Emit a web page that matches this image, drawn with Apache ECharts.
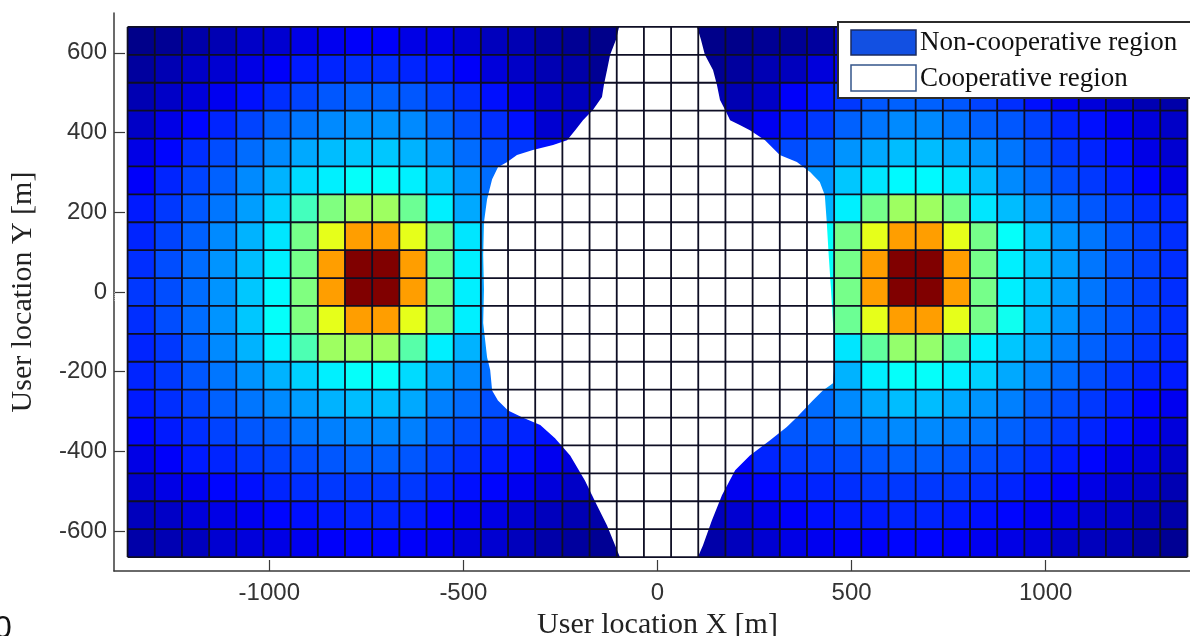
<!DOCTYPE html>
<html>
<head>
<meta charset="utf-8">
<title>Cooperative region</title>
<script src="https://cdn.jsdelivr.net/npm/echarts@6/dist/echarts.min.js"></script>
<style>
  html, body { margin: 0; padding: 0; background: #ffffff; }
  #chart { width: 1190px; height: 636px; }
</style>
</head>
<body>
<div id="chart"></div>
<script>
// Cell centres of the user-location grid [m]
const xCenters = [-1330,-1260,-1190,-1120,-1050,-980,-910,-840,-770,-700,-630,-560,-490,-420,-350,-280,-210,-140,-70,0,
                  70,140,210,280,350,420,490,560,630,700,770,840,910,980,1050,1120,1190,1260,1330];
const yCenters = [630,560,490,420,350,280,210,140,70,0,-70,-140,-210,-280,-350,-420,-490,-560,-630];
const cellSize = 70;

// Colour level of each cell (0..100), one array per grid row, top row first
const rowY630  = [1,2,4,5,7,8,10,11,12,12,10,10,8,6,5,3,2,1,1,1,1,1,1,2,2,3,8,10,12,12,11,10,8,7,5,4,3,2,1];
const rowY560  = [3,5,7,8,10,12,15,16,17,17,16,15,12,9,7,5,4,2,2,2,2,2,3,5,6,9,12,16,17,17,16,15,12,10,8,7,5,3,2];
const rowY490  = [5,7,9,11,14,17,19,21,22,22,21,19,17,14,10,7,6,5,4,4,4,5,5,7,12,15,18,21,22,22,21,19,17,14,11,9,7,5,4];
const rowY420  = [7,10,13,16,19,22,24,26,27,27,26,23,20,17,14,8,7,6,5,5,5,6,7,11,15,18,22,24,26,26,24,22,21,19,16,14,11,9,7];
const rowY350  = [10,13,17,20,23,26,29,31,32,32,30,27,23,20,18,14,11,9,8,8,9,11,14,17,20,23,27,29,31,31,29,27,24,21,18,16,14,10,8];
const rowY280  = [12,16,19,22,26,30,34,36,38,38,36,32,27,23,20,17,14,12,10,10,12,14,17,19,21,27,32,35,37,37,35,31,26,23,20,18,16,13,10];
const rowY210  = [15,18,21,24,28,33,44,50,53,53,48,36,29,25,22,19,16,14,12,12,14,16,19,22,25,30,36,49,53,53,49,35,31,27,24,21,19,17,16];
const rowY140  = [16,19,22,26,30,35,49,60,72,72,60,49,35,28,24,21,18,15,13,13,15,18,21,24,30,38,49,60,72,72,60,49,38,32,27,24,21,19,17];
const rowY70   = [17,20,23,27,31,36,49,72,100,100,72,49,36,29,25,22,19,16,14,14,16,19,22,25,29,38,49,72,100,100,72,49,36,32,28,24,21,19,17];
const rowY0    = [18,20,23,27,32,37,50,72,100,100,72,50,36,28,25,22,19,16,14,14,16,19,22,25,29,38,49,72,100,100,72,49,36,32,28,24,21,19,17];
const rowYm70  = [17,20,23,27,32,38,50,60,72,72,60,50,36,27,24,21,18,15,14,14,15,18,21,25,29,40,48,60,72,72,60,49,39,31,27,23,21,19,17];
const rowYm140 = [16,18,22,26,30,36,45,53,53,53,46,36,30,26,22,19,16,14,13,13,14,16,19,22,26,30,35,47,52,52,47,36,32,29,25,22,20,18,16];
const rowYm210 = [16,18,21,24,27,30,33,36,38,38,34,29,26,23,20,17,15,13,12,12,13,15,18,21,24,27,30,36,38,38,36,33,29,26,23,20,18,16,15];
const rowYm280 = [15,17,19,22,24,26,28,30,31,31,29,25,23,20,17,14,12,11,10,10,11,13,16,19,21,23,26,29,31,31,29,27,25,22,20,18,16,13,11];
const rowYm350 = [13,15,17,19,21,22,24,25,26,26,25,22,20,18,16,14,12,10,9,9,10,12,15,18,21,22,24,25,26,26,25,24,22,20,18,16,14,11,9];
const rowYm420 = [10,12,15,16,18,19,20,21,22,22,21,19,17,15,14,11,9,8,7,7,8,10,13,16,18,19,20,21,22,22,21,20,19,17,15,13,10,9,7];
const rowYm490 = [8,10,11,13,14,16,17,18,18,18,18,16,14,13,11,9,7,6,5,5,6,8,11,13,15,16,17,18,18,18,18,17,16,14,12,10,8,7,5];
const rowYm560 = [6,7,9,10,11,13,14,15,16,16,15,13,11,10,8,6,5,4,3,3,4,6,8,10,12,14,15,15,16,16,15,14,13,11,10,8,7,5,4];
const rowYm630 = [4,5,6,8,9,10,11,12,13,13,12,11,9,8,6,4,3,2,2,2,2,4,6,8,10,11,12,12,13,13,12,11,10,9,7,6,5,3,2];

const fieldRows = [rowY630,rowY560,rowY490,rowY420,rowY350,rowY280,rowY210,rowY140,rowY70,rowY0,
                   rowYm70,rowYm140,rowYm210,rowYm280,rowYm350,rowYm420,rowYm490,rowYm560,rowYm630];

// Outline of the cooperative region [x, y] in metres
const coopBoundary = [
  [-99,665],[-107,633],[-122,595],[-130,557],[-138,520],[-143,489],[-166,457],[-192,431],[-212,406],[-233,381],
  [-269,369],[-321,356],[-362,344],[-387,326],[-411,313],[-426,283],[-439,233],[-447,175],[-449,92],[-447,7],
  [-449,-78],[-439,-164],[-431,-196],[-426,-247],[-411,-272],[-385,-297],[-349,-314],[-302,-334],[-264,-367],
  [-225,-410],[-187,-473],[-156,-535],[-130,-586],[-109,-636],[-97,-665],[104,-665],[117,-636],[140,-573],
  [166,-510],[200,-447],[238,-410],[290,-372],[333,-339],[359,-314],[400,-272],[426,-247],[452,-229],[457,-164],
  [452,-78],[447,5],[441,92],[436,175],[431,243],[418,276],[393,301],[359,326],[315,344],[277,381],[238,406],
  [212,419],[187,431],[174,457],[161,482],[153,520],[143,557],[122,595],[112,633],[102,665]
];

// MATLAB-style jet colour ramp
const jet = ['#000080','#0000ff','#0080ff','#00ffff','#80ff80','#ffff00','#ff8000','#ff0000','#800000'];

const half = cellSize / 2;
const cells = [];
fieldRows.forEach(function (row, r) {
  row.forEach(function (v, c) { cells.push([xCenters[c], yCenters[r], v]); });
});
const xEdges = xCenters.map(function (x) { return x - half; }).concat([xCenters[xCenters.length - 1] + half]);
const yEdges = yCenters.map(function (y) { return y + half; }).concat([yCenters[yCenters.length - 1] - half]);

const chart = echarts.init(document.getElementById('chart'));

const axisColor = '#3a3a3a';
const gridLineColor = '#0e0e24';
const tickFont = { fontFamily: 'Liberation Sans', fontSize: 24, color: '#333' };
const titleFont = { fontFamily: 'Liberation Serif', fontSize: 30, color: '#222' };
const plainNumber = function (v) { return String(v); };

chart.setOption({
  animation: false,
  backgroundColor: '#ffffff',
  grid: { left: 114, width: 1087, top: 13, height: 558, outerBoundsMode: 'none', containLabel: false },
  xAxis: [{
    type: 'value', min: -1400, max: 1400, splitNumber: 5, position: 'bottom',
    axisLine: { show: true, onZero: false, lineStyle: { color: axisColor, width: 1.5 } },
    axisTick: { show: true, inside: true, length: 11, lineStyle: { color: axisColor, width: 1.2 } },
    axisLabel: Object.assign({ showMinLabel: false, showMaxLabel: false, margin: 10, formatter: plainNumber }, tickFont),
    splitLine: { show: false },
    name: 'User location X [m]', nameLocation: 'middle', nameGap: 29, nameTextStyle: titleFont
  }, {
    type: 'value', min: -1400, max: 1400, splitNumber: 5, position: 'top',
    axisLine: { show: false },
    axisTick: { show: true, inside: true, length: 9, lineStyle: { color: '#aaa', type: 'dotted' } },
    axisLabel: { show: false }, splitLine: { show: false }
  }],
  yAxis: {
    type: 'value', min: -700, max: 700, splitNumber: 7,
    axisLine: { show: true, onZero: false, lineStyle: { color: axisColor, width: 1.5 } },
    axisTick: { show: true, inside: true, length: 11, lineStyle: { color: axisColor, width: 1.2 } },
    axisLabel: Object.assign({ showMinLabel: false, showMaxLabel: false, margin: 7, padding: [6, 0, 0, 0],
                               formatter: plainNumber }, tickFont),
    splitLine: { show: false },
    name: 'User location Y [m]', nameLocation: 'middle', nameGap: 76, nameTextStyle: titleFont
  },
  visualMap: {
    type: 'continuous', show: false, min: 0, max: 100, dimension: 2, seriesIndex: 0,
    inRange: { color: jet }
  },
  series: [{
    name: 'Non-cooperative region',
    type: 'custom', silent: true,
    encode: { x: 0, y: 1 },
    data: cells,
    renderItem: function (params, api) {
      const x = api.value(0), y = api.value(1);
      const p0 = api.coord([x - half, y + half]);
      const p1 = api.coord([x + half, y - half]);
      return {
        type: 'rect',
        shape: { x: p0[0], y: p0[1], width: p1[0] - p0[0], height: p1[1] - p0[1] },
        style: { fill: api.visual('color'), stroke: api.visual('color'), lineWidth: 0.5 }
      };
    }
  }, {
    name: 'Cooperative region',
    type: 'custom', silent: true,
    encode: { x: 0, y: 1 },
    data: [[0, 0]],
    renderItem: function (params, api) {
      return {
        type: 'polygon',
        shape: { points: coopBoundary.map(function (p) { return api.coord(p); }) },
        style: { fill: '#ffffff' }
      };
    }
  }, {
    name: 'grid',
    type: 'custom', silent: true,
    encode: { x: 0, y: 1 },
    data: [[0, 0]],
    renderItem: function (params, api) {
      const yTop = yEdges[0], yBot = yEdges[yEdges.length - 1];
      const xL = xEdges[0], xR = xEdges[xEdges.length - 1];
      const children = [];
      xEdges.forEach(function (x) {
        const a = api.coord([x, yTop]), b = api.coord([x, yBot]);
        children.push({ type: 'line', shape: { x1: a[0], y1: a[1], x2: b[0], y2: b[1] },
                        style: { stroke: gridLineColor, lineWidth: 1.8 } });
      });
      yEdges.forEach(function (y) {
        const a = api.coord([xL, y]), b = api.coord([xR, y]);
        children.push({ type: 'line', shape: { x1: a[0], y1: a[1], x2: b[0], y2: b[1] },
                        style: { stroke: gridLineColor, lineWidth: 1.8 } });
      });
      return { type: 'group', children: children };
    }
  }],
  graphic: [
    { type: 'rect', z: 100, shape: { x: 838, y: 22, width: 400, height: 76 },
      style: { fill: '#ffffff', stroke: '#2b2b2b', lineWidth: 2 } },
    { type: 'rect', z: 101, shape: { x: 851, y: 30, width: 65, height: 25 },
      style: { fill: '#1250e2', stroke: '#1a2a60', lineWidth: 1.5 } },
    { type: 'rect', z: 101, shape: { x: 851, y: 65, width: 65, height: 26 },
      style: { fill: '#ffffff', stroke: '#35558a', lineWidth: 1.5 } },
    { type: 'text', z: 101, x: 920, y: 43,
      style: { text: 'Non-cooperative region', fontFamily: 'Liberation Serif', fontSize: 27, fill: '#111',
               align: 'left', verticalAlign: 'middle' } },
    { type: 'text', z: 101, x: 920, y: 79,
      style: { text: 'Cooperative region', fontFamily: 'Liberation Serif', fontSize: 27, fill: '#111',
               align: 'left', verticalAlign: 'middle' } },
    { type: 'text', z: 101, x: -6, y: 613,
      style: { text: '0', fontFamily: 'Liberation Sans', fontSize: 32, fill: '#111',
               align: 'left', verticalAlign: 'top' } }
  ]
});
</script>
</body>
</html>
